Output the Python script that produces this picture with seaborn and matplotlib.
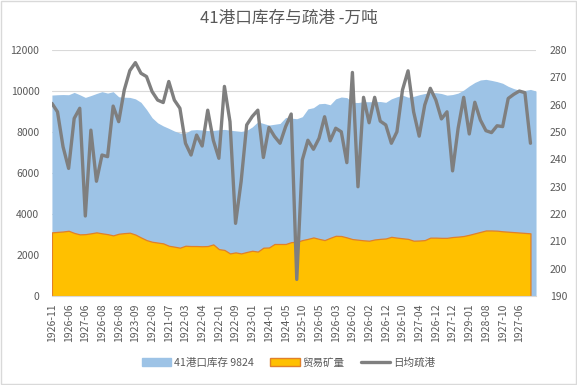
import matplotlib.pyplot as plt
import numpy as np
import pandas as pd
import seaborn as sns
from matplotlib.lines import Line2D
from matplotlib.patches import Patch

# inventory at 41 ports (left axis, 10k t), one week longer than the rest
inventory = [
    9805, 9820, 9830, 9820, 9935, 9820, 9690, 9780, 9880, 9970,
    9900, 9970, 9720, 9700, 9690, 9620, 9450, 9100, 8700, 8450,
    8300, 8180, 8050, 7950, 7950, 8100, 8120, 8100, 8070, 8080,
    8110, 8130, 8090, 8060, 8030, 8080, 8250, 8500, 8420, 8340,
    8380, 8420, 8710, 8680, 8650, 8750, 9130, 9190, 9380, 9400,
    9330, 9620, 9710, 9680, 9450, 9440, 9480, 9480, 9480, 9490,
    9450, 9620, 9720, 9800, 9700, 9740, 9820, 9880, 9920, 9920,
    9880, 9800, 9830, 9900, 10050, 10250, 10420, 10540, 10570, 10520,
    10460, 10380, 10230, 10120, 10040, 10030, 10080, 10000,
]

# trade ore (left axis)
trade_ore = [
    3107, 3130, 3150, 3185, 3080, 3010, 3020, 3060, 3107, 3060,
    3020, 2960, 3040, 3070, 3090, 3000, 2860, 2730, 2650, 2610,
    2570, 2455, 2410, 2360, 2455, 2440, 2440, 2430, 2440, 2520,
    2290, 2250, 2080, 2130, 2080, 2150, 2210, 2170, 2360, 2370,
    2540, 2540, 2540, 2630, 2650, 2730, 2790, 2860, 2790, 2730,
    2840, 2940, 2930, 2860, 2780, 2750, 2720, 2700, 2760, 2790,
    2810, 2890, 2850, 2820, 2790, 2700, 2710, 2730, 2850, 2850,
    2840, 2840, 2880, 2900, 2930, 2990, 3060, 3130, 3200, 3200,
    3190, 3160, 3140, 3120, 3100, 3080, 3060,
]

# daily average port clearance (right axis)
daily_clearance = [
    260.5, 257.4, 244.6, 236.7, 255.0, 258.7, 219.3, 250.7, 232.0, 241.6,
    241.0, 259.5, 253.8, 265.4, 272.5, 275.4, 271.5, 270.3, 264.8, 261.7,
    260.8, 268.5, 261.7, 258.7, 245.9, 241.6, 248.9, 244.9, 258.0, 247.0,
    240.4, 266.7, 253.8, 216.6, 231.9, 252.6, 255.7, 258.0, 240.7, 251.7,
    248.4, 245.9, 252.0, 256.6, 196.1, 239.8, 247.0, 243.7, 247.7, 255.6,
    246.8, 251.4, 250.1, 238.8, 271.8, 230.0, 262.7, 253.4, 262.7, 254.0,
    252.6, 245.9, 250.1, 265.4, 272.4, 257.4, 248.5, 259.9, 266.0, 261.7,
    254.8, 257.4, 235.8, 251.4, 262.7, 249.3, 260.9, 254.4, 250.5, 249.8,
    252.3, 252.0, 262.3, 263.8, 265.0, 264.4, 245.9,
]

# every third category is labelled
tick_labels = [
    "1926-11", "1926-06", "1927-06", "1926-08", "1926-08", "1923-09",
    "1922-08", "1921-07", "1922-03", "1922-04", "1922-01", "1922-09",
    "1923-01", "1924-01", "1924-05", "1925-10", "1926-05", "1926-03",
    "1926-02", "1926-02", "1926-12", "1926-10", "1927-04", "1926-12",
    "1927-12", "1929-01", "1928-08", "1927-10", "1927-06",
]

BLUE = "#9DC3E6"
ORANGE = "#FFC000"
ORANGE_EDGE = "#E0802A"
GREY = "#7F7F7F"
TEXT = "#595959"
GRID = "#D9D9D9"

sns.set_style("white")
plt.rcParams["font.family"] = ["Noto Sans CJK SC", "DejaVu Sans"]

df_inv = pd.DataFrame({"x": np.arange(len(inventory)), "v": inventory})
df_main = pd.DataFrame({
    "x": np.arange(len(trade_ore)),
    "ore": trade_ore,
    "daily": daily_clearance,
})

fig = plt.figure(figsize=(5.77, 3.85), dpi=100)
ax = fig.add_axes([0.090, 0.231, 0.839, 0.639])

ax.fill_between(df_inv["x"], df_inv["v"], color=BLUE, linewidth=0, zorder=2)
ax.fill_between(df_main["x"], df_main["ore"], facecolor=ORANGE,
                edgecolor=ORANGE_EDGE, linewidth=0.9, zorder=3)

ax.set_xlim(0, len(inventory) - 1)
ax.set_ylim(0, 12000)
ax.set_yticks(range(0, 12001, 2000))
ax.grid(axis="y", color=GRID, linewidth=0.8, zorder=0)
ax.set_axisbelow(True)

ax.set_xticks(range(0, len(trade_ore) - 2, 3))
ax.set_xticklabels(tick_labels, rotation=90)
ax.set_xticks(range(0, len(inventory)), minor=True)
ax.tick_params(axis="x", which="both", length=3.5, color=GRID, width=0.8,
               labelsize=7.5, labelcolor=TEXT, pad=2)
ax.tick_params(axis="y", length=0, labelsize=7.5, labelcolor=TEXT, pad=9)

for side in ["top", "left", "right"]:
    ax.spines[side].set_visible(False)
ax.spines["bottom"].set_color(GRID)
ax.spines["bottom"].set_zorder(5)

ax2 = ax.twinx()
sns.lineplot(data=df_main, x="x", y="daily", ax=ax2, color=GREY,
             linewidth=2.4, legend=False)
ax2.set_ylim(190, 280)
ax2.set_yticks(range(190, 281, 10))
ax2.set_xlim(0, len(inventory) - 1)
ax2.set_ylabel("")
ax2.set_xlabel("")
ax.set_xlabel("")
ax.set_ylabel("")
ax2.tick_params(axis="y", length=0, labelsize=7.5, labelcolor=TEXT, pad=10)
for side in ["top", "left", "right", "bottom"]:
    ax2.spines[side].set_visible(False)

fig.suptitle("41港口库存与疏港 -万吨", x=0.5, y=0.975, fontsize=12, color=TEXT)

handles = [
    Patch(facecolor=BLUE, edgecolor=BLUE, label="41港口库存 9824"),
    Patch(facecolor=ORANGE, edgecolor=ORANGE_EDGE, label="贸易矿量"),
    Line2D([0], [0], color=GREY, linewidth=2.4, label="日均疏港"),
]
leg = fig.legend(handles=handles, loc="center", bbox_to_anchor=(0.5, 0.058),
                 ncol=3, frameon=False, fontsize=7.6, handlelength=2.8,
                 handleheight=0.8, columnspacing=1.5, handletextpad=0.3)
for t in leg.get_texts():
    t.set_color(TEXT)

fig.patches.append(plt.Rectangle((0.002, 0.002), 0.996, 0.996, transform=fig.transFigure,
                                 fill=False, edgecolor=GRID, linewidth=1))

fig.savefig("out.png", dpi=100)
